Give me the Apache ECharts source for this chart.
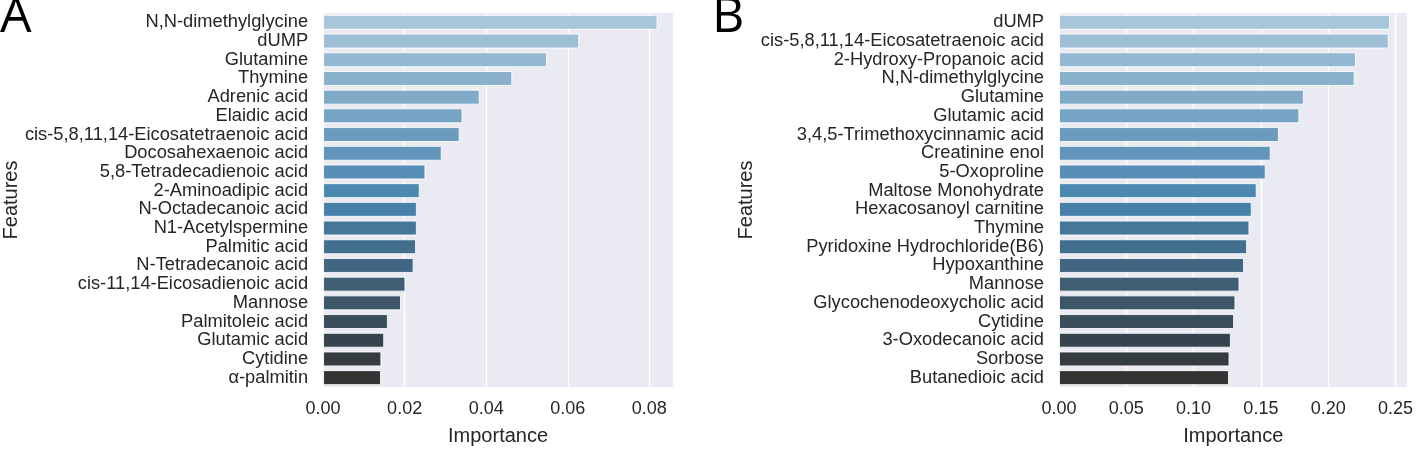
<!DOCTYPE html>
<html>
<head>
<meta charset="utf-8">
<script src="https://cdn.jsdelivr.net/npm/echarts@6/dist/echarts.min.js"></script>
<style>
html,body{margin:0;padding:0;background:#fff;}
#chart{width:1416px;height:451px;}
</style>
</head>
<body>
<div id="chart"></div>
<script>
// ---- Data (top to bottom) ----
const featuresA = ["N,N-dimethylglycine","dUMP","Glutamine","Thymine","Adrenic acid","Elaidic acid",
  "cis-5,8,11,14-Eicosatetraenoic acid","Docosahexaenoic acid","5,8-Tetradecadienoic acid","2-Aminoadipic acid",
  "N-Octadecanoic acid","N1-Acetylspermine","Palmitic acid","N-Tetradecanoic acid","cis-11,14-Eicosadienoic acid",
  "Mannose","Palmitoleic acid","Glutamic acid","Cytidine","α-palmitin"];
const importanceA = [0.0820,0.0628,0.0549,0.0464,0.0384,0.0342,0.0335,0.0291,0.0251,0.0237,
  0.0230,0.0230,0.0228,0.0222,0.0202,0.0191,0.0159,0.0150,0.0143,0.0142];

const featuresB = ["dUMP","cis-5,8,11,14-Eicosatetraenoic acid","2-Hydroxy-Propanoic acid","N,N-dimethylglycine",
  "Glutamine","Glutamic acid","3,4,5-Trimethoxycinnamic acid","Creatinine enol","5-Oxoproline","Maltose Monohydrate",
  "Hexacosanoyl carnitine","Thymine","Pyridoxine Hydrochloride(B6)","Hypoxanthine","Mannose",
  "Glycochenodeoxycholic acid","Cytidine","3-Oxodecanoic acid","Sorbose","Butanedioic acid"];
const importanceB = [0.2460,0.2450,0.2207,0.2197,0.1819,0.1786,0.1634,0.1573,0.1536,0.1469,
  0.1432,0.1415,0.1398,0.1375,0.1341,0.1311,0.1301,0.1277,0.1267,0.1263];

const ticksA = {min:0, max:0.0858, interval:0.02};
const ticksB = {min:0, max:0.259, interval:0.05};

// ---- palette: blend light blue -> mid blue -> dark grey, desaturated 0.75 ----
function rgb2hls(r,g,b){r/=255;g/=255;b/=255;const mx=Math.max(r,g,b),mn=Math.min(r,g,b);const l=(mx+mn)/2;let h=0,s=0;
  if(mx!==mn){const d=mx-mn;s=l>0.5?d/(2-mx-mn):d/(mx+mn);
    if(mx===r)h=((g-b)/d+(g<b?6:0));else if(mx===g)h=(b-r)/d+2;else h=(r-g)/d+4;h/=6;}
  return [h,l,s];}
function hue2rgb(p,q,t){if(t<0)t+=1;if(t>1)t-=1;if(t<1/6)return p+(q-p)*6*t;if(t<1/2)return q;if(t<2/3)return p+(q-p)*(2/3-t)*6;return p;}
function hls2rgb(h,l,s){if(s===0)return [l*255,l*255,l*255];const q=l<0.5?l*(1+s):l+s-l*s;const p=2*l-q;
  return [hue2rgb(p,q,h+1/3)*255,hue2rgb(p,q,h)*255,hue2rgb(p,q,h-1/3)*255];}
function palette(n){
  const stops=[[158,200,226],[55,135,192],[51,51,51]];
  const out=[];
  for(let i=0;i<n;i++){
    const t=i/(n-1)*2; const k=Math.min(1,Math.floor(t)); const f=t-k;
    const c=[0,1,2].map(j=>stops[k][j]+(stops[k+1][j]-stops[k][j])*f);
    const [h,l,s]=rgb2hls(c[0],c[1],c[2]);
    const r=hls2rgb(h,l,s*0.75).map(v=>Math.round(v));
    out.push('rgb('+r.join(',')+')');
  }
  return out;
}
const colors = palette(20);

const FONT = 'Liberation Sans, Arial, sans-serif';
const TXT = '#262626';

function xAxis(gi, t){
  return {type:'value', gridIndex:gi, min:t.min, max:t.max, interval:t.interval,
    name:'Importance', nameLocation:'middle', nameGap:39,
    nameTextStyle:{fontFamily:FONT, fontSize:20, color:TXT},
    axisLine:{show:false}, axisTick:{show:false},
    axisLabel:{fontFamily:FONT, fontSize:18, color:TXT, margin:13, showMaxLabel:false,
      formatter:v=>v.toFixed(2)},
    splitLine:{show:true, lineStyle:{color:'#ffffff', width:1.3}}};
}
function yAxis(gi, cats){
  return {type:'category', gridIndex:gi, data:cats, inverse:true,
    name:'Features', nameLocation:'middle', nameRotate:90, nameGap:302,
    nameTextStyle:{fontFamily:FONT, fontSize:20, color:TXT},
    axisLine:{show:false}, axisTick:{show:false}, splitLine:{show:false},
    axisLabel:{fontFamily:FONT, fontSize:18.3, color:TXT, margin:15, interval:0}};
}
function series(gi, vals){
  return {type:'bar', xAxisIndex:gi, yAxisIndex:gi, barCategoryGap:'20%',
    data: vals.map((v,i)=>({value:v, itemStyle:{color:colors[i]}})),
    itemStyle:{borderColor:'rgba(255,255,255,0.85)', borderWidth:1},
    silent:true, animation:false};
}

const chart = echarts.init(document.getElementById('chart'), null, {renderer:'canvas'});
chart.setOption({
  animation:false,
  backgroundColor:'#ffffff',
  grid:[
    {left:323, right:743, top:13, bottom:58.5, show:true, backgroundColor:'#eaeaf2', borderWidth:0},
    {left:1059, right:6, top:13, bottom:58.5, show:true, backgroundColor:'#eaeaf2', borderWidth:0}
  ],
  xAxis:[xAxis(0,ticksA), xAxis(1,ticksB)],
  yAxis:[yAxis(0,featuresA), yAxis(1,featuresB)],
  series:[series(0,importanceA), series(1,importanceB)],
  graphic:[
    {type:'text', left:0, top:-7, style:{text:'A', font:'50px "Open Sans", sans-serif', fill:'#000'}},
    {type:'text', left:712, top:-7, style:{text:'B', font:'50px "Open Sans", sans-serif', fill:'#000'}}
  ]
});
</script>
</body>
</html>
